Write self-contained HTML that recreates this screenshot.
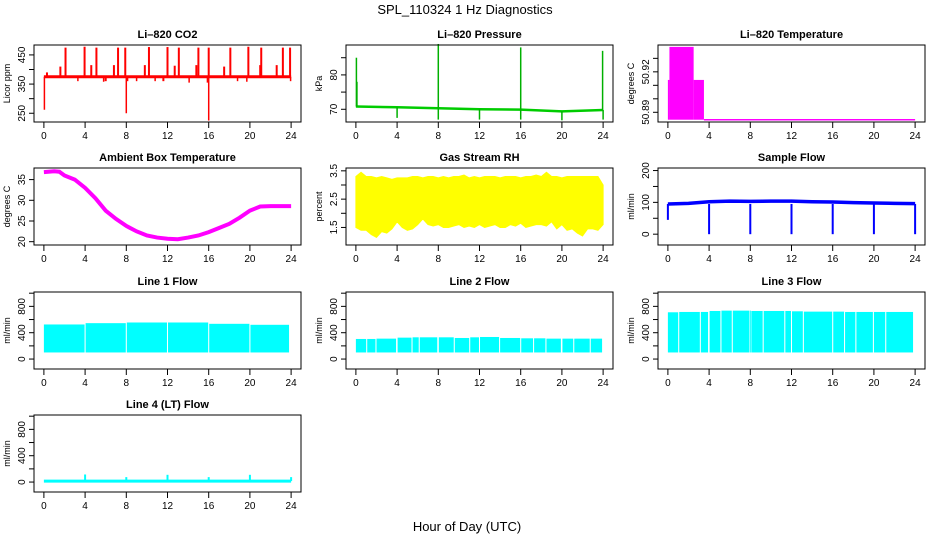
<!DOCTYPE html>
<html><head><meta charset="utf-8"><style>
html,body{margin:0;padding:0;background:#fff}
svg{display:block;font-family:"Liberation Sans",sans-serif}
</style></head><body>
<svg id="fig" width="936" height="540" viewBox="0 0 936 540" xmlns="http://www.w3.org/2000/svg">
<text x="465" y="14" font-size="13" text-anchor="middle">SPL_110324  1 Hz Diagnostics</text>
<text x="467" y="531" font-size="13" text-anchor="middle">Hour of Day (UTC)</text>
</svg>
<script>
// ---- data arrays ----
const xTicks = [0,4,8,12,16,20,24];
const co2Base = 375;
const co2SpikeHours = [2.1,3.95,5.1,7.2,7.9,10.2,12.0,13.1,15.0,16.0,18.1,19.85,21.1,23.2,23.9,1.6,4.6,6.8,9.8,12.7,14.8,17.5,21.0,22.6,0.3,8.1,15.9,6.0,11.6];
const co2SpikeVals  = [475,478,475,475,475,477,477,475,475,475,475,478,475,475,475,410,415,415,415,413,415,410,415,415,390,360,355,360,360];
const co2DownHours = [0.05,8.0,16.0,23.95,3.3,5.8,9.0,10.8,14.1,18.8,19.7];
const co2DownVals  = [262,250,225,360,360,358,360,360,355,360,358];
const presHours = [0,4,8,12,16,20,24];
const presVals  = [70.8,70.6,70.3,70.0,69.9,69.4,69.8];
const presSpikeHours = [0.05,0.1,8.0,16.0,23.95,4.0,8.0,12.0,16.0,20.0,24.0];
const presSpikeVals  = [85,78,89,88,87,67.5,67,67,67,66.8,67];
const tempSegStart = [0,0.15,2.5,3.5];
const tempSegEnd   = [0.15,2.5,3.5,24];
const tempSegVals  = [50.914,50.9385,50.914,50.8845];
const tempBase = 50.8845;
const ambHours = [0,1,1.5,2,3,4,5,6,7,8,9,10,11,12,13,14,15,16,17,18,19,20,21,22,23,24];
const ambVals  = [36.8,37,36.9,36,35,33,30.5,27.5,25.5,23.8,22.5,21.5,21,20.7,20.6,21,21.5,22.3,23.3,24.3,25.8,27.5,28.5,28.6,28.6,28.6];
const rhHours = [0,0.5,1,1.5,2,2.5,3,3.5,4,4.5,5,5.5,6,6.5,7,7.5,8,8.5,9,9.5,10,10.5,11,11.5,12,12.5,13,13.5,14,14.5,15,15.5,16,16.5,17,17.5,18,18.5,19,19.5,20,20.5,21,21.5,22,22.5,23,23.5,24];
const rhUpper = [3.3,3.45,3.3,3.3,3.25,3.3,3.25,3.2,3.25,3.25,3.25,3.3,3.3,3.25,3.3,3.3,3.25,3.3,3.25,3.3,3.3,3.35,3.25,3.3,3.25,3.3,3.3,3.3,3.25,3.3,3.3,3.3,3.25,3.3,3.3,3.35,3.3,3.45,3.3,3.3,3.25,3.3,3.3,3.3,3.3,3.3,3.3,3.3,3.0];
const rhLower = [1.5,1.4,1.4,1.25,1.15,1.35,1.3,1.45,1.7,1.5,1.4,1.45,1.6,1.8,1.6,1.55,1.6,1.5,1.5,1.55,1.6,1.5,1.55,1.5,1.6,1.5,1.55,1.6,1.5,1.5,1.6,1.55,1.65,1.5,1.55,1.6,1.6,1.55,1.7,1.45,1.6,1.4,1.45,1.3,1.2,1.45,1.45,1.4,1.6];
const sfHours = [0,2,4,6,8,10,12,14,16,18,20,22,24];
const sfVals  = [95,97,102,104,103,104,104,102,101,99,98,97,96];
const sfDropHours = [0,4,8,12,16,20,24];
const sfDropVals  = [45,0,0,0,0,0,0];
const l1Start = [0,4.05,8.05,12.05,16.05,20.05];
const l1End   = [3.95,7.95,11.95,15.95,19.95,23.8];
const l1Upper = [525,545,555,555,535,520];
const l2Start = [0,1.1,2.0,4.05,5.5,6.2,8.05,9.6,11.1,12.05,14.0,16.05,17.3,18.5,20.05,21.2,22.8];
const l2End   = [1.0,1.9,3.9,5.4,6.1,7.9,9.5,11.0,11.95,13.9,15.95,17.2,18.4,19.9,21.1,22.7,23.9];
const l2Upper = [305,305,310,325,330,330,330,320,330,335,320,315,315,310,310,310,310];
const l3Start = [0,1.1,3.2,4.05,5.2,6.3,7.95,8.1,9.3,11.4,12.05,13.2,16.05,17.2,18.3,20.0,21.2];
const l3End   = [1.0,3.1,3.9,5.1,6.2,7.9,8.05,9.2,11.3,11.95,13.1,15.95,17.1,18.2,19.9,21.1,23.8];
const l3Upper = [710,715,715,730,735,735,735,730,730,730,725,720,720,715,715,715,715];
const l4Base = 15;
const l4SpikeHours = [4,8,12,16,20,24,1.4,2.2];
const l4SpikeVals  = [115,75,110,75,110,75,25,25];

// ---- layout ----
const NS = "http://www.w3.org/2000/svg";
const svg = document.getElementById('fig');
const colL = [34,346,658], W = 267;
const rowT = [45,168,292,415], H = 77;
function el(tag, attrs, parent){
  const e = document.createElementNS(NS, tag);
  for (const k in attrs) e.setAttribute(k, attrs[k]);
  (parent||svg).appendChild(e);
  return e;
}
function panel(name, col, row, title, ylab, ylim, yticks, ylabels){
  const g = el('g', {});
  
  
  const L = colL[col], T = rowT[row];
  const xs = h => L + (h + 0.96) / 25.92 * W;
  const ys = v => T + H - (v - ylim[0]) / (ylim[1] - ylim[0]) * H;
  const t = el('text', {x: L + W/2, y: T - 7, 'font-size': 11, 'font-weight': 'bold', 'text-anchor': 'middle'}, g);
  t.textContent = title;
  
  
  const plot = el('g', {}, g);
  
  
  const box = el('rect', {x: L, y: T, width: W, height: H, fill: 'none', stroke: '#000', 'stroke-width': 1}, g);
  
  
  const xa = el('g', {}, g);
  
  
  el('line', {x1: xs(0), x2: xs(24), y1: T + H, y2: T + H, stroke: '#000'}, xa);
  xTicks.forEach(h => {
    el('line', {x1: xs(h), x2: xs(h), y1: T + H, y2: T + H + 6, stroke: '#000'}, xa);
    const tl = el('text', {x: xs(h), y: T + H + 17, 'font-size': 10, 'text-anchor': 'middle'}, xa);
    tl.textContent = h;
  });
  const ya = el('g', {}, g);
  
  
  el('line', {x1: L, x2: L, y1: ys(yticks[0]), y2: ys(yticks[yticks.length-1]), stroke: '#000'}, ya);
  yticks.forEach((v, i) => {
    el('line', {x1: L - 5, x2: L, y1: ys(v), y2: ys(v), stroke: '#000'}, ya);
    if (ylabels[i] !== '') {
      const tx = L - 9, ty = ys(v);
      const tl = el('text', {x: tx, y: ty, 'font-size': 10, 'text-anchor': 'middle', transform: `rotate(-90 ${tx} ${ty})`}, ya);
      tl.textContent = ylabels[i];
    }
  });
  const yx = L - 24, yy = T + H/2;
  const yt = el('text', {x: yx, y: yy, 'font-size': 9, 'text-anchor': 'middle', transform: `rotate(-90 ${yx} ${yy})`}, g);
  yt.textContent = ylab;
  
  
  return {plot, xs, ys};
}
function vline(p, h, v0, v1, color, w){
  const l = el('line', {x1: p.xs(h), x2: p.xs(h), y1: p.ys(v0), y2: p.ys(v1), stroke: color, 'stroke-width': w}, p.plot);
  
  
}
function poly(p, hs, vs, color, w){
  const pl = el('polyline', {points: hs.map((h,i) => p.xs(h)+','+p.ys(vs[i])).join(' '), fill: 'none', stroke: color, 'stroke-width': w}, p.plot);
  
  
}
function bands(p, st, en, up, lo, color){
  st.forEach((s, i) => {
    const r = el('rect', {x: p.xs(s), y: p.ys(up[i]), width: p.xs(en[i]) - p.xs(s), height: p.ys(lo) - p.ys(up[i]), fill: color}, p.plot);
    
    
  });
}

// CO2
let p = panel('co2', 0, 0, 'Li\u2013820 CO2', 'Licor ppm', [220,484], [250,300,350,400,450], ['250','','350','','450']);
poly(p, [0,24], [co2Base,co2Base], '#ff0000', 3);
co2SpikeHours.forEach((h,i) => vline(p, h, co2Base, co2SpikeVals[i], '#ff0000', 2));
co2DownHours.forEach((h,i) => vline(p, h, co2Base, co2DownVals[i], '#ff0000', 1.5));

// Pressure
p = panel('pressure', 1, 0, 'Li\u2013820 Pressure', 'kPa', [66.3,88.7], [70,75,80,85], ['70','','80','']);
poly(p, presHours, presVals, '#00cc00', 2.5);
presSpikeHours.forEach((h,i) => vline(p, h, presVals[Math.min(6, Math.round(h/4))], presSpikeVals[i], '#00b000', 1.5));

// Li-820 Temperature
p = panel('li820-temp', 2, 0, 'Li\u2013820 Temperature', 'degrees C', [50.8828,50.9399], [50.89,50.90,50.91,50.92,50.93], ['50.89','','','50.92','']);
bands(p, tempSegStart, tempSegEnd, tempSegVals, tempBase, '#ff00ff');
poly(p, [3.5,24], [tempBase,tempBase], '#ff00ff', 1.5);

// Ambient
p = panel('ambient-temp', 0, 1, 'Ambient Box Temperature', 'degrees C', [19.2,37.8], [20,25,30,35], ['20','25','30','35']);
poly(p, ambHours, ambVals, '#ff00ff', 4);

// RH
p = panel('gas-rh', 1, 1, 'Gas Stream RH', 'percent', [0.88,3.6], [1.5,2,2.5,3,3.5], ['1.5','','2.5','','3.5']);
{
  const pts = rhHours.map((h,i) => p.xs(h)+','+p.ys(rhUpper[i])).concat(rhHours.slice().reverse().map((h,j) => p.xs(h)+','+p.ys(rhLower[rhHours.length-1-j])));
  const pg = el('polygon', {points: pts.join(' '), fill: '#ffff00', stroke: '#ffff00', 'stroke-width': 1}, p.plot);
  
  
}

// Sample flow
p = panel('sample-flow', 2, 1, 'Sample Flow', 'ml/min', [-34,208], [0,50,100,150,200], ['0','','100','','200']);
poly(p, sfHours, sfVals, '#0000ff', 3.5);
sfDropHours.forEach((h,i) => vline(p, h, 95, sfDropVals[i], '#0000ff', 2));

const lTicks = [0,200,400,600,800,1000], lLabs = ['0','','400','','800',''];
p = panel('line1-flow', 0, 2, 'Line 1 Flow', 'ml/min', [-151,1018], lTicks, lLabs);
bands(p, l1Start, l1End, l1Upper, 100, '#00ffff');
p = panel('line2-flow', 1, 2, 'Line 2 Flow', 'ml/min', [-151,1018], lTicks, lLabs);
bands(p, l2Start, l2End, l2Upper, 100, '#00ffff');
p = panel('line3-flow', 2, 2, 'Line 3 Flow', 'ml/min', [-151,1018], lTicks, lLabs);
bands(p, l3Start, l3End, l3Upper, 100, '#00ffff');
p = panel('line4-flow', 0, 3, 'Line 4 (LT) Flow', 'ml/min', [-151,1018], lTicks, lLabs);
poly(p, [0,24], [l4Base,l4Base], '#00ffff', 3);
l4SpikeHours.forEach((h,i) => vline(p, h, l4Base, l4SpikeVals[i], '#00ffff', 2));
</script>
</body></html>
